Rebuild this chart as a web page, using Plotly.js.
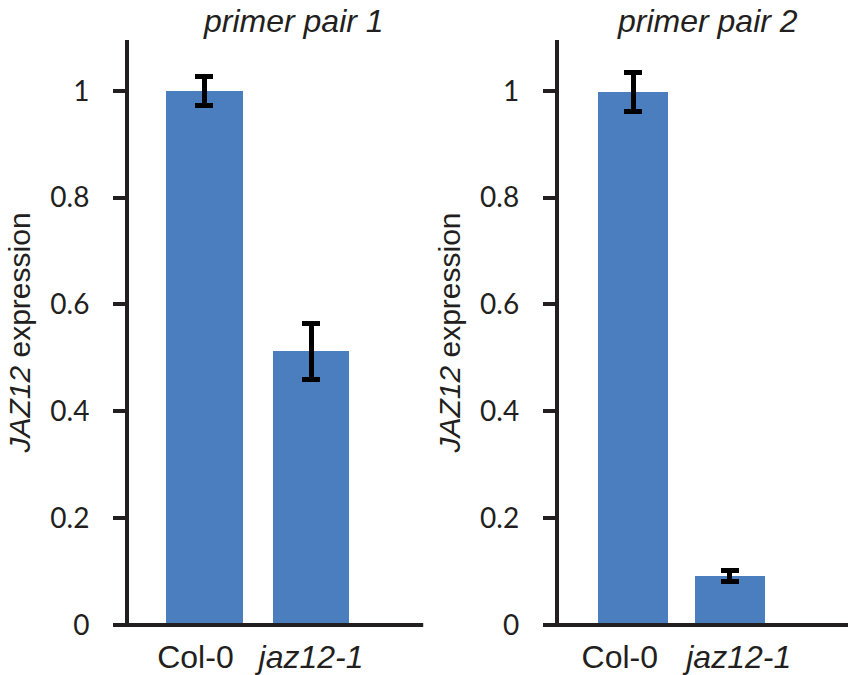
<!DOCTYPE html>
<html>
<head>
<meta charset="utf-8">
<script src="https://cdn.plot.ly/plotly-3.0.1.min.js"></script>
<style>html,body{margin:0;padding:0;background:#fff;}#chart{width:848px;height:675px;}</style>
</head>
<body>
<div id="chart"></div>
<script>
// ---- data ----
const categories = ['Col-0', 'jaz12-1'];
const tickLabels1 = ['Col-0&nbsp;&nbsp;', '<i>jaz12-1</i>'];
const tickLabels2 = ['Col-0&nbsp;&nbsp;&nbsp;', '&nbsp;&nbsp;<i>jaz12-1</i>'];
const panelTitles = ['<i>primer pair 1</i>', '<i>primer pair 2</i>'];
const pair1Values = [1.0, 0.512];
const pair1Errors = [0.027, 0.052];
const pair2Values = [0.998, 0.092];
const pair2Errors = [0.036, 0.010];
const yTicks = [0, 0.2, 0.4, 0.6, 0.8, 1];
const yTickText = ['0', '0.2', '0.4', '0.6', '0.8', '1'];
const yTitle = '<i>JAZ12</i> expression';

// ---- styles ----
const barColor = '#4a7ebf';
const axisColor = '#231f20';
const labelFont = {family: 'Liberation Sans, Arial, sans-serif', size: 32, color: axisColor};
const titleFont = {family: 'Liberation Sans, Arial, sans-serif', size: 32, color: axisColor};
const tickFont = {family: 'Lato, Carlito, sans-serif', size: 28, color: axisColor};

function barTrace(vals, errs, xa, ya) {
  return {
    type: 'bar', x: categories, y: vals, xaxis: xa, yaxis: ya,
    width: 0.72,
    marker: {color: barColor, line: {width: 0}},
    error_y: {type: 'data', array: errs, visible: true, color: '#000', thickness: 5, width: 9},
    hoverinfo: 'skip', showlegend: false
  };
}

const yAxisBase = {
  range: [0, 1.095], tickvals: yTicks, ticktext: yTickText,
  showline: true, linecolor: axisColor, linewidth: 4,
  ticks: 'outside', ticklen: 12, tickwidth: 4, tickcolor: axisColor,
  ticklabelstandoff: 18,
  showgrid: false, zeroline: false, tickfont: tickFont,
  title: {text: yTitle, font: {family: 'Liberation Sans, Arial, sans-serif', size: 30, color: axisColor}, standoff: 12}
};
const xAxisBase = {
  type: 'category', tickvals: categories,
  showline: false, ticks: '', showgrid: false, zeroline: false,
  ticklabelstandoff: 10, tickangle: 0,
  tickfont: labelFont, fixedrange: true
};

const layout = {
  width: 848, height: 675,
  margin: {l: 129, r: 0, t: 40, b: 50},
  paper_bgcolor: '#fff', plot_bgcolor: '#fff',
  bargap: 0,
  xaxis: Object.assign({}, xAxisBase, {ticktext: tickLabels1, domain: [0, 0.4092], range: [-0.706, 2.051], anchor: 'y'}),
  yaxis: Object.assign({}, yAxisBase, {anchor: 'x'}),
  xaxis2: Object.assign({}, xAxisBase, {ticktext: tickLabels2, domain: [0.5978, 1], range: [-0.768, 2.222], anchor: 'y2'}),
  yaxis2: Object.assign({}, yAxisBase, {anchor: 'x2'}),
  shapes: [
    {type: 'line', xref: 'x domain', yref: 'y domain', x0: -0.047, x1: 1, y0: 0, y1: 0, line: {color: axisColor, width: 4}},
    {type: 'line', xref: 'x2 domain', yref: 'y2 domain', x0: -0.048, x1: 1, y0: 0, y1: 0, line: {color: axisColor, width: 4}}
  ],
  annotations: [
    {text: panelTitles[0], xref: 'paper', yref: 'paper', x: 0.2288, y: 1.033, xanchor: 'center', yanchor: 'middle', showarrow: false, font: titleFont},
    {text: panelTitles[1], xref: 'paper', yref: 'paper', x: 0.8044, y: 1.033, xanchor: 'center', yanchor: 'middle', showarrow: false, font: titleFont}
  ]
};

Plotly.newPlot('chart', [
  barTrace(pair1Values, pair1Errors, 'x', 'y'),
  barTrace(pair2Values, pair2Errors, 'x2', 'y2')
], layout, {staticPlot: true, displayModeBar: false});
</script>
</body>
</html>
